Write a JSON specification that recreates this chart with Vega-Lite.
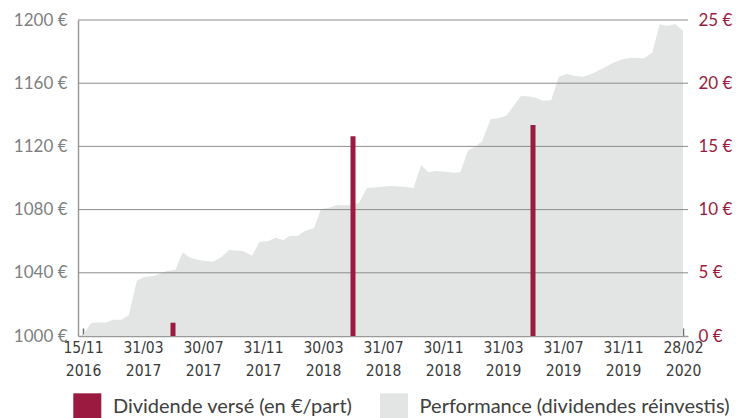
{
  "$schema": "https://vega.github.io/schema/vega-lite/v6.json",
  "width": 610,
  "height": 316,
  "autosize": {"type": "none"},
  "padding": {"left": 78, "top": 20, "right": 59, "bottom": 82},
  "background": "white",
  "config": {"view": {"stroke": null}, "font": "Lato"},
  "datasets": {
    "perf": [
      {"pos": 0, "value": 1000.5},
      {"pos": 0.131, "value": 1008.0},
      {"pos": 0.251, "value": 1008.7},
      {"pos": 0.372, "value": 1008.4},
      {"pos": 0.503, "value": 1010.3},
      {"pos": 0.644, "value": 1010.3},
      {"pos": 0.766, "value": 1013.5},
      {"pos": 0.897, "value": 1035.0},
      {"pos": 1.016, "value": 1037.3},
      {"pos": 1.18, "value": 1038.0},
      {"pos": 1.398, "value": 1041.1},
      {"pos": 1.541, "value": 1042.0},
      {"pos": 1.661, "value": 1053.0},
      {"pos": 1.782, "value": 1049.6},
      {"pos": 1.946, "value": 1047.9},
      {"pos": 2.164, "value": 1047.0},
      {"pos": 2.3, "value": 1049.8},
      {"pos": 2.438, "value": 1054.4},
      {"pos": 2.667, "value": 1053.8},
      {"pos": 2.82, "value": 1050.8},
      {"pos": 2.939, "value": 1059.5},
      {"pos": 3.093, "value": 1060.1},
      {"pos": 3.202, "value": 1062.2},
      {"pos": 3.339, "value": 1060.8},
      {"pos": 3.448, "value": 1063.5},
      {"pos": 3.574, "value": 1063.3},
      {"pos": 3.705, "value": 1066.6},
      {"pos": 3.848, "value": 1068.2},
      {"pos": 3.967, "value": 1080.4},
      {"pos": 4.103, "value": 1081.2},
      {"pos": 4.241, "value": 1082.9},
      {"pos": 4.405, "value": 1082.7},
      {"pos": 4.595, "value": 1084.0},
      {"pos": 4.733, "value": 1093.7},
      {"pos": 4.897, "value": 1094.1},
      {"pos": 5.115, "value": 1094.9},
      {"pos": 5.361, "value": 1094.5},
      {"pos": 5.508, "value": 1093.7},
      {"pos": 5.634, "value": 1108.0},
      {"pos": 5.759, "value": 1103.6},
      {"pos": 5.88, "value": 1104.4},
      {"pos": 6.044, "value": 1104.0},
      {"pos": 6.18, "value": 1103.4},
      {"pos": 6.29, "value": 1103.6},
      {"pos": 6.415, "value": 1117.3},
      {"pos": 6.536, "value": 1119.8},
      {"pos": 6.656, "value": 1123.4},
      {"pos": 6.792, "value": 1137.2},
      {"pos": 6.918, "value": 1137.8},
      {"pos": 7.054, "value": 1139.4},
      {"pos": 7.3, "value": 1151.9},
      {"pos": 7.443, "value": 1151.6},
      {"pos": 7.574, "value": 1150.4},
      {"pos": 7.656, "value": 1148.9},
      {"pos": 7.803, "value": 1149.2},
      {"pos": 7.93, "value": 1164.1},
      {"pos": 8.066, "value": 1165.8},
      {"pos": 8.202, "value": 1164.6},
      {"pos": 8.339, "value": 1164.1},
      {"pos": 8.475, "value": 1165.8},
      {"pos": 8.667, "value": 1169.4},
      {"pos": 8.857, "value": 1173.2},
      {"pos": 8.995, "value": 1175.1},
      {"pos": 9.131, "value": 1176.1},
      {"pos": 9.349, "value": 1175.8},
      {"pos": 9.487, "value": 1179.3},
      {"pos": 9.611, "value": 1197.3},
      {"pos": 9.749, "value": 1196.2},
      {"pos": 9.869, "value": 1197.5},
      {"pos": 10, "value": 1193.2}
    ],
    "grid": [
      {"g": 1040}, {"g": 1080}, {"g": 1120}, {"g": 1160}, {"g": 1200}
    ],
    "div": [
      {"pos": 1.5, "dividend": 1.05},
      {"pos": 4.5, "dividend": 15.8},
      {"pos": 7.5, "dividend": 16.7}
    ]
  },
  "layer": [
    {
      "data": {"name": "perf"},
      "mark": {"type": "area", "interpolate": "linear", "clip": true},
      "encoding": {
        "x": {
          "field": "pos",
          "type": "quantitative",
          "scale": {"domain": [0, 10], "nice": false, "zero": false},
          "axis": {
            "title": null,
            "values": [0, 1, 2, 3, 4, 5, 6, 7, 8, 9, 10],
            "labelExpr": "split(['15/11|2016','31/03|2017','30/07|2017','31/11|2017','30/03|2018','31/07|2018','30/11|2018','31/03|2019','31/07|2019','31/11|2019','28/02|2020'][datum.value], '|')",
            "labelFont": "Liberation Sans Narrow, DejaVu Sans Condensed, sans-serif",
            "labelFontSize": 15.5,
            "labelLineHeight": 23,
            "labelColor": "#3a3a3a",
            "labelFlush": false,
            "labelOverlap": false,
            "labelBound": false,
            "labelPadding": 12,
            "grid": false,
            "domainColor": "#9a9a9a",
            "domainWidth": 1.5,
            "tickColor": "#6f6f6f",
            "tickWidth": 1.5,
            "tickSize": -8
          }
        },
        "y": {
          "field": "value",
          "type": "quantitative",
          "scale": {"domain": [1000, 1200], "nice": false, "zero": false},
          "axis": {
            "orient": "left",
            "title": null,
            "values": [1000, 1040, 1080, 1120, 1160, 1200],
            "labelExpr": "datum.value + ' €'",
            "labelFont": "Lato",
            "labelFontSize": 17,
            "labelColor": "#7f7f7f",
            "labelPadding": 11,
            "ticks": false,
            "grid": false,
            "domainColor": "#9a9a9a",
            "domainWidth": 1.5
          }
        },
        "color": {
          "datum": "Performance (dividendes réinvestis)",
          "type": "nominal",
          "scale": {
            "domain": ["Dividende versé (en €/part)", "Performance (dividendes réinvestis)"],
            "range": ["#9b1b40", "#e3e4e4"]
          },
          "legend": {
            "orient": "none",
            "legendX": -4.7,
            "legendY": 373.3,
            "direction": "horizontal",
            "title": null,
            "padding": 0,
            "symbolType": "square",
            "symbolSize": 784,
            "symbolStrokeWidth": 0,
            "symbolOpacity": 1,
            "labelFont": "Lato",
            "labelFontSize": 20,
            "labelColor": "#404040",
            "labelOffset": 11.6,
            "labelLimit": 400,
            "columnPadding": 26.7
          }
        }
      }
    },
    {
      "data": {"name": "grid"},
      "mark": {"type": "rule", "color": "#8c8c8c", "strokeWidth": 1},
      "encoding": {
        "y": {
          "field": "g",
          "type": "quantitative",
          "scale": {"domain": [1000, 1200], "nice": false, "zero": false},
          "axis": null
        }
      }
    },
    {
      "data": {"name": "div"},
      "mark": {"type": "bar", "size": 5},
      "encoding": {
        "x": {"field": "pos", "type": "quantitative"},
        "y": {
          "field": "dividend",
          "type": "quantitative",
          "scale": {"domain": [0, 25], "nice": false},
          "axis": {
            "orient": "right",
            "title": null,
            "values": [0, 5, 10, 15, 20, 25],
            "labelExpr": "datum.value + ' €'",
            "labelFont": "Lato",
            "labelFontSize": 17,
            "labelColor": "#9b1b40",
            "labelPadding": 10,
            "ticks": false,
            "grid": false,
            "domain": false
          }
        },
        "color": {"datum": "Dividende versé (en €/part)", "type": "nominal"}
      }
    }
  ],
  "resolve": {"scale": {"y": "independent"}, "axis": {"y": "independent"}}
}
